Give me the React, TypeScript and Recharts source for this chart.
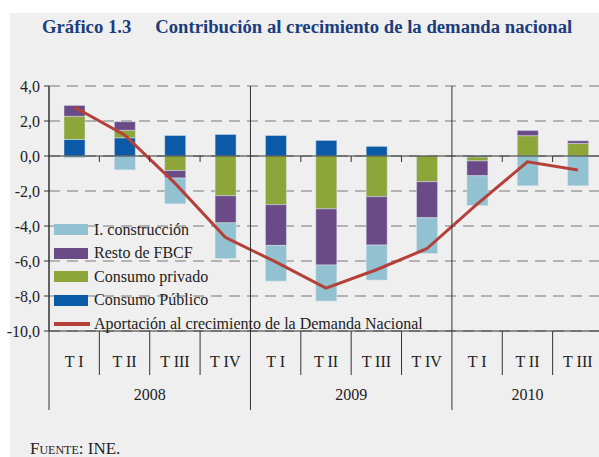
import {
  ComposedChart,
  Bar,
  Line,
  XAxis,
  YAxis,
  CartesianGrid,
  ReferenceLine,
} from 'recharts';

const quarters = ['T I', 'T II', 'T III', 'T IV', 'T I', 'T II', 'T III', 'T IV', 'T I', 'T II', 'T III'];
const years = ['2008', '2008', '2008', '2008', '2009', '2009', '2009', '2009', '2010', '2010', '2010'];

const consumoPublico = [0.95, 1.04, 1.17, 1.23, 1.17, 0.89, 0.55, 0, -0.06, 0, 0];
const consumoPrivado = [1.32, 0.43, -0.83, -2.27, -2.78, -3.02, -2.32, -1.47, -0.22, 1.16, 0.72];
const restoFBCF = [0.62, 0.49, -0.43, -1.55, -2.33, -3.21, -2.77, -2.06, -0.85, 0.3, 0.15];
const construccion = [-0.1, -0.79, -1.47, -2.04, -2.04, -2.06, -2.0, -2.04, -1.7, -1.7, -1.7];
const aportacion = [2.8, 1.2, -1.55, -4.65, -6.05, -7.55, -6.5, -5.3, -2.75, -0.33, -0.8];

const yTicks = [-10, -8, -6, -4, -2, 0, 2, 4];

const data = quarters.map((q, i) => ({
  id: `${years[i]} ${q}`,
  pub: consumoPublico[i],
  priv: consumoPrivado[i],
  resto: restoFBCF[i],
  constr: construccion[i],
  total: aportacion[i],
}));

const SERIF = "'Liberation Serif', 'Times New Roman', serif";

// chart geometry (page coordinates, chart sits at 0,0)
const CHART_W = 610;
const CHART_H = 457;
const PLOT_LEFT = 49;
const PLOT_RIGHT = 603;
const PLOT_TOP = 86;
const PLOT_BOTTOM = 331;
const BAND = (PLOT_RIGHT - PLOT_LEFT) / quarters.length;
const ZERO_Y = PLOT_TOP + (4 / 14) * (PLOT_BOTTOM - PLOT_TOP);

const legendItems = [
  { name: 'I. construcción', color: '#92c1d2', line: false },
  { name: 'Resto de FBCF', color: '#6a4b87', line: false },
  { name: 'Consumo privado', color: '#8da539', line: false },
  { name: 'Consumo Público', color: '#0b5aa7', line: false },
  { name: 'Aportación al crecimiento de la Demanda Nacional', color: '#b5403a', line: true },
];

function QuarterTick(props: any) {
  const { x, index } = props;
  const left = x - BAND / 2;
  const yearStart = index === 0 || years[index] !== years[index - 1];
  let yearLabel: string | null = null;
  let yearX = 0;
  if (index === 1) { yearLabel = years[1]; yearX = x + BAND / 2; }
  if (index === 5) { yearLabel = years[5]; yearX = x + BAND / 2; }
  if (index === 9) { yearLabel = years[9]; yearX = x; }
  return (
    <g>
      <text x={x} y={367} textAnchor="middle" fontFamily={SERIF} fontSize={16} fill="#222">
        {quarters[index]}
      </text>
      {yearStart ? (
        <line x1={left} x2={left} y1={PLOT_TOP} y2={410} stroke="#333" strokeWidth={1} />
      ) : (
        <>
          <line x1={left} x2={left} y1={PLOT_BOTTOM} y2={375} stroke="#333" strokeWidth={1} />
          <line x1={left} x2={left} y1={ZERO_Y} y2={ZERO_Y + 6} stroke="#333" strokeWidth={1} />
        </>
      )}
      {yearLabel && (
        <text x={yearX} y={400} textAnchor="middle" fontFamily={SERIF} fontSize={16} fill="#222">
          {yearLabel}
        </text>
      )}
    </g>
  );
}

export default function App() {
  return (
    <div style={{ position: 'absolute', left: 0, top: 0, width: 599, height: 457, overflow: 'hidden', background: '#fff' }}>
      <div style={{ position: 'absolute', left: 10, top: 13, right: 0, bottom: 0, background: '#efefef' }} />
      <div
        style={{
          position: 'absolute',
          left: 42,
          top: 16,
          fontFamily: SERIF,
          fontWeight: 'bold',
          fontSize: 18.7,
          color: '#1c3d7c',
          whiteSpace: 'nowrap',
        }}
      >
        <span>Gráfico 1.3</span>
        <span style={{ marginLeft: 24 }}>Contribución al crecimiento de la demanda nacional</span>
      </div>
      <div style={{ position: 'absolute', left: 0, top: 0 }}>
        <ComposedChart
          width={CHART_W}
          height={CHART_H}
          data={data}
          stackOffset="sign"
          barSize={21}
          margin={{ top: PLOT_TOP, right: CHART_W - PLOT_RIGHT, bottom: CHART_H - PLOT_BOTTOM - 80, left: 0 }}
        >
          <CartesianGrid vertical={false} stroke="#a0a0a0" strokeDasharray="11 7" strokeWidth={1.3} />
          <XAxis
            dataKey="id"
            interval={0}
            height={80}
            tickLine={false}
            axisLine={{ stroke: '#333' }}
            tick={QuarterTick}
          />
          <YAxis
            width={PLOT_LEFT}
            domain={[-10, 4]}
            ticks={yTicks}
            interval={0}
            tickFormatter={(v: number) => v.toFixed(1).replace('.', ',')}
            axisLine={{ stroke: '#333' }}
            tickLine={{ stroke: '#333' }}
            tickSize={5}
            tickMargin={4}
            tick={{ fontFamily: SERIF, fontSize: 16, fill: '#222' }}
          />
          <Bar dataKey="pub" stackId="a" fill="#0b5aa7" stroke="#d8e4ea" strokeWidth={0.5} isAnimationActive={false} />
          <Bar dataKey="priv" stackId="a" fill="#8da539" stroke="#d8e4ea" strokeWidth={0.5} isAnimationActive={false} />
          <Bar dataKey="resto" stackId="a" fill="#6a4b87" stroke="#d8e4ea" strokeWidth={0.5} isAnimationActive={false} />
          <Bar dataKey="constr" stackId="a" fill="#92c1d2" stroke="#d8e4ea" strokeWidth={0.5} isAnimationActive={false} />
          <ReferenceLine y={0} stroke="#333" strokeWidth={1} />
          <Line
            dataKey="total"
            type="linear"
            stroke="#b5403a"
            strokeWidth={3}
            dot={false}
            activeDot={false}
            isAnimationActive={false}
          />
        </ComposedChart>
      </div>
      <div style={{ position: 'absolute', left: 54, top: 218, fontFamily: SERIF, fontSize: 16, color: '#222' }}>
        {legendItems.map((it) => (
          <div key={it.name} style={{ display: 'flex', alignItems: 'center', height: 23.5, whiteSpace: 'nowrap' }}>
            {it.line ? (
              <div style={{ width: 36, height: 4, background: it.color, marginRight: 4 }} />
            ) : (
              <div style={{ width: 34, height: 11, background: it.color, marginRight: 6 }} />
            )}
            <span>{it.name}</span>
          </div>
        ))}
      </div>
      <div
        style={{
          position: 'absolute',
          left: 30,
          top: 439,
          fontFamily: SERIF,
          fontSize: 17,
          color: '#222',
          fontVariant: 'small-caps',
        }}
      >
        Fuente: INE.
      </div>
    </div>
  );
}
